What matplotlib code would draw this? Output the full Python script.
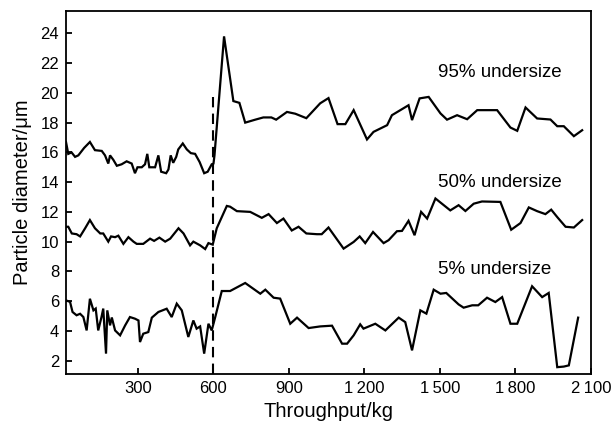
import numpy as np
import matplotlib.pyplot as plt

plt.rcParams['font.family'] = ['Liberation Sans', 'DejaVu Sans']

# throughput (kg) and particle diameter (um) for each size fraction
x95 = [14, 23, 36, 50, 63, 86, 109, 129, 156, 169, 182, 189, 202, 216, 235, 255, 275, 288, 298, 315,
       328, 337, 345, 368, 381, 392, 412, 421, 430, 440, 452, 460, 478, 494, 510, 527, 545, 563, 577,
       593, 600, 604, 642, 679, 703, 726, 766, 798, 830, 849, 892, 925, 969, 1024, 1057, 1093, 1124,
       1157, 1210, 1236, 1290, 1309, 1375, 1389, 1419, 1455, 1502, 1528, 1568, 1608, 1648, 1727,
       1780, 1807, 1840, 1886, 1939, 1966, 1992, 2032, 2065]
y95 = [16.7, 15.9, 16.0, 15.7, 15.8, 16.3, 16.7, 16.15, 16.1, 15.8, 15.25, 15.8, 15.5, 15.1, 15.2,
       15.4, 15.25, 14.6, 15.0, 15.0, 15.2, 15.9, 15.0, 15.0, 15.8, 14.7, 14.6, 14.85, 15.8, 15.3,
       15.7, 16.2, 16.6, 16.2, 15.95, 15.9, 15.35, 14.6, 14.7, 15.2, 15.25, 15.8, 23.8, 19.45, 19.33,
       18.0, 18.2, 18.35, 18.35, 18.2, 18.72, 18.6, 18.3, 19.3, 19.65, 17.9, 17.9, 18.84, 16.87,
       17.38, 17.83, 18.5, 19.17, 18.17, 19.63, 19.73, 18.62, 18.2, 18.5, 18.23, 18.84, 18.84, 17.67,
       17.45, 19.02, 18.28, 18.21, 17.76, 17.76, 17.09, 17.49]

x50 = [14, 23, 37, 56, 70, 90, 109, 129, 150, 162, 182, 193, 209, 222, 242, 262, 282, 295, 321, 348,
       364, 385, 408, 428, 461, 481, 507, 520, 547, 567, 580, 597, 613, 653, 666, 693, 746, 792, 819,
       852, 878, 911, 938, 969, 1011, 1030, 1057, 1117, 1157, 1181, 1203, 1234, 1276, 1296, 1329,
       1349, 1375, 1399, 1425, 1449, 1482, 1541, 1574, 1601, 1634, 1667, 1740, 1783, 1820, 1853,
       1886, 1919, 1942, 1966, 1999, 2032, 2065]
y50 = [11.0, 11.0, 10.55, 10.5, 10.35, 10.9, 11.45, 10.9, 10.55, 10.55, 10.0, 10.35, 10.3, 10.4,
       9.85, 10.3, 10.0, 9.85, 9.85, 10.2, 10.05, 10.27, 10.0, 10.2, 10.9, 10.55, 9.75, 10.0, 9.75,
       9.5, 9.9, 9.8, 10.9, 12.4, 12.35, 12.05, 12.0, 11.6, 11.85, 11.25, 11.55, 10.75, 11.0, 10.55,
       10.5, 10.5, 10.95, 9.53, 9.98, 10.35, 9.9, 10.65, 9.9, 10.1, 10.7, 10.72, 11.4, 10.43, 12.0,
       11.55, 12.9, 12.1, 12.45, 12.06, 12.55, 12.7, 12.67, 10.8, 11.25, 12.3, 12.05, 11.85, 12.15,
       11.65, 11.0, 10.95, 11.45]

x5 = [14, 30, 40, 56, 70, 83, 96, 109, 123, 132, 142, 155, 162, 173, 178, 189, 196, 209, 229, 249,
      268, 288, 302, 308, 321, 341, 355, 381, 414, 434, 454, 474, 500, 520, 533, 547, 563, 580, 593,
      607, 633, 666, 726, 786, 806, 839, 865, 905, 932, 978, 1024, 1071, 1111, 1131, 1157, 1183,
      1196, 1243, 1283, 1336, 1362, 1389, 1422, 1446, 1475, 1502, 1525, 1574, 1594, 1628, 1652,
      1687, 1720, 1747, 1780, 1807, 1866, 1906, 1932, 1966, 1992, 2012, 2049]
y5 = [6.05, 5.95, 5.27, 5.05, 5.15, 4.93, 4.03, 6.16, 5.38, 5.5, 4.03, 4.93, 5.5, 2.47, 5.38, 4.37,
      4.9, 4.03, 3.7, 4.37, 4.93, 4.82, 4.7, 3.25, 3.81, 3.92, 4.89, 5.27, 5.49, 4.93, 5.83, 5.38,
      3.59, 4.7, 4.15, 4.3, 2.47, 4.48, 4.03, 4.93, 6.68, 6.68, 7.22, 6.5, 6.77, 6.23, 6.17, 4.48,
      4.89, 4.19, 4.3, 4.35, 3.14, 3.14, 3.7, 4.44, 4.15, 4.48, 4.03, 4.89, 4.59, 2.69, 5.38, 5.16,
      6.77, 6.5, 6.55, 5.78, 5.56, 5.72, 5.72, 6.23, 5.94, 6.27, 4.48, 4.48, 7.0, 6.27, 6.55, 1.56,
      1.6, 1.68, 4.89]

labels = ['95% undersize', '50% undersize', '5% undersize']
label_y = [21.4, 13.95, 8.15]

xticks = [300, 600, 900, 1200, 1500, 1800, 2100]
xticklabels = ['300', '600', '900', '1\u2009200', '1\u2009500', '1\u2009800', '2\u2009100']
yticks = np.arange(2, 25, 2)

fig = plt.figure(figsize=(6.14, 4.23), dpi=100)
ax = fig.add_axes([0.1075, 0.1158, 0.855, 0.858])

for x, y in [(x95, y95), (x50, y50), (x5, y5)]:
    ax.plot(x, y, color='black', lw=1.6, solid_joinstyle='miter')

# change of feed at 600 kg
ax.plot([600, 600], [1.1, 19.7], color='black', lw=1.5, linestyle=(0, (5, 3)))

for t, yy in zip(labels, label_y):
    ax.text(1494, yy, t, fontsize=13.5, va='center', ha='left')

ax.set_xlim(14, 2100)
ax.set_ylim(1.1, 25.5)
ax.set_xticks(xticks)
ax.set_xticklabels(xticklabels)
ax.set_yticks(yticks)
ax.tick_params(direction='in', length=4, width=1.3, labelsize=12, pad=5)
for s in ax.spines.values():
    s.set_linewidth(1.3)

ax.set_xlabel('Throughput/kg', fontsize=14.5, labelpad=4)
ax.set_ylabel('Particle diameter/\u03bcm', fontsize=14.5, labelpad=6)

plt.savefig('out.png', dpi=100)
plt.close()
